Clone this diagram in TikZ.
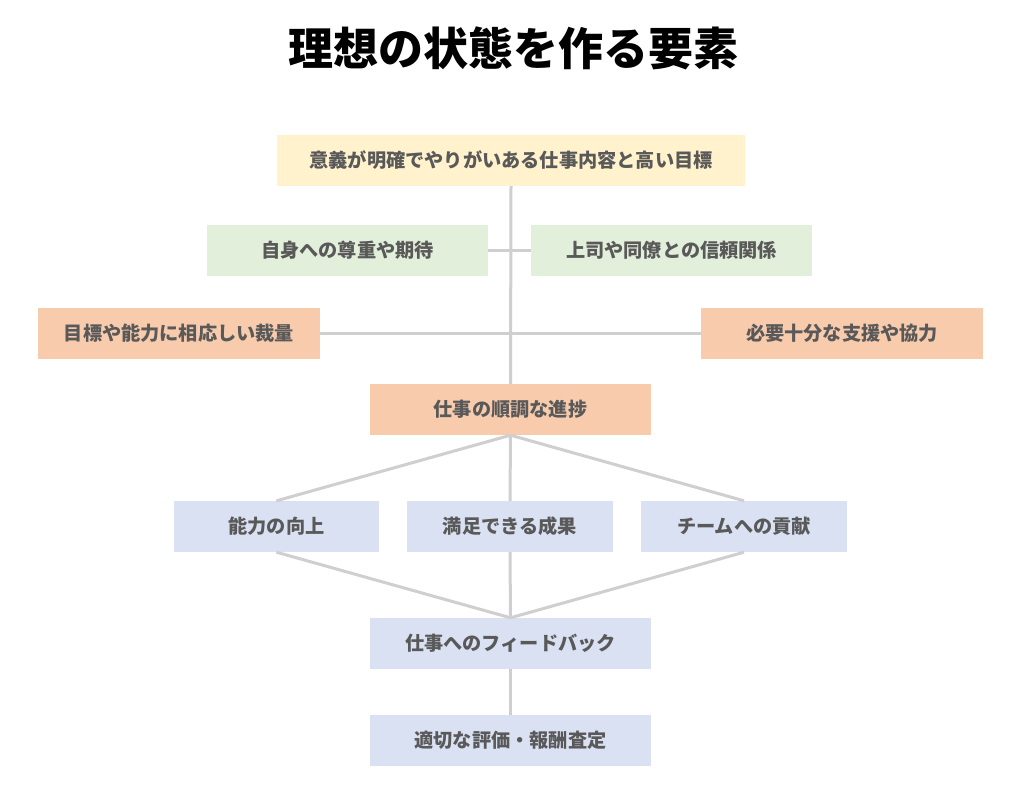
\documentclass[tikz,border=0pt]{standalone}
\usepackage{fontspec}
\newfontfamily\cjk{Noto Sans CJK JP}
\begin{document}
\begin{tikzpicture}[x=1pt,y=-1pt,
  box/.style={draw=none,inner sep=0pt,minimum height=51pt,font=\cjk\bfseries\fontsize{19.2}{21}\selectfont,text=txtgray},
  conn/.style={draw=linegray,line width=3pt}]
\definecolor{txtgray}{HTML}{595959}
\definecolor{linegray}{HTML}{CFCFCF}
\definecolor{cyellow}{HTML}{FFF2CC}
\definecolor{cgreen}{HTML}{E2EFDA}
\definecolor{corange}{HTML}{F8CBAD}
\definecolor{cblue}{HTML}{D9E1F2}
\useasboundingbox[fill=white] (0,0) rectangle (1026,810);
\node[font=\cjk\bfseries\fontsize{45}{48}\selectfont] (title) at (513,48) {理想の状態を作る要素};
% boxes
\node[box,fill=cyellow,minimum width=468pt] (top) at (511,160.5) {意義が明確でやりがいある仕事内容と高い目標};
\node[box,fill=cgreen,minimum width=281pt] (gl) at (347.5,250.5) {自身への尊重や期待};
\node[box,fill=cgreen,minimum width=281pt] (gr) at (671.5,250.5) {上司や同僚との信頼関係};
\node[box,fill=corange,minimum width=282pt] (ol) at (179,333.5) {目標や能力に相応しい裁量};
\node[box,fill=corange,minimum width=282pt] (or) at (842,333.5) {必要十分な支援や協力};
\node[box,fill=corange,minimum width=281pt] (mid) at (510.5,409.5) {仕事の順調な進捗};
\node[box,fill=cblue,minimum width=205pt] (b1) at (276.5,526.5) {能力の向上};
\node[box,fill=cblue,minimum width=206pt] (b2) at (510,526.5) {満足できる成果};
\node[box,fill=cblue,minimum width=206pt] (b3) at (744,526.5) {チームへの貢献};
\node[box,fill=cblue,minimum width=281pt] (fb) at (510.5,643.5) {仕事へのフィードバック};
\node[box,fill=cblue,minimum width=281pt] (ev) at (510.5,740.5) {適切な評価・報酬査定};
% connectors
\path[conn] (top.south) -- (mid.north);
\path[conn] (gl.east) -- (gr.west);
\path[conn] (ol.east) -- (or.west);
\path[conn] (mid.south) -- (b1.north);
\path[conn] (mid.south) -- (b2.north);
\path[conn] (mid.south) -- (b3.north);
\path[conn] (b1.south) -- (fb.north);
\path[conn] (b2.south) -- (fb.north);
\path[conn] (b3.south) -- (fb.north);
\path[conn] (fb.south) -- (ev.north);
\end{tikzpicture}
\end{document}
